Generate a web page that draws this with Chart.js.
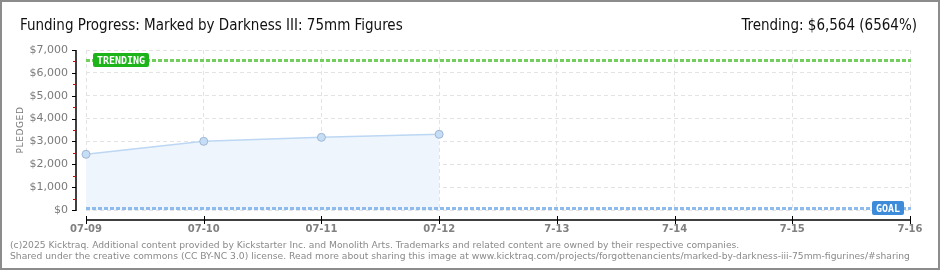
<!DOCTYPE html>
<html>
<head>
<meta charset="utf-8">
<script src="https://cdn.jsdelivr.net/npm/chart.js@4/dist/chart.umd.min.js"></script>
<style>
  html, body { margin: 0; padding: 0; background: #fff; }
  #wrap { width: 940px; height: 270px; position: relative; }
</style>
</head>
<body>
<div id="wrap"><canvas id="myChart" width="940" height="270"></canvas></div>
<script>
// data
var days = ['07-09', '07-10', '07-11', '07-12', '7-13', '7-14', '7-15', '7-16'];
var pledged = [2437, 3005, 3180, 3311, null, null, null, null];
var trending = 6564;
var goal = 100;
var yTicks = [0, 1000, 2000, 3000, 4000, 5000, 6000, 7000];

var extras = {
    id: 'extras',
    beforeDatasetsDraw: function (chart) {
        var c = chart.ctx, y = chart.scales.y, a = chart.chartArea;
        // trending dotted line
        c.save();
        c.lineWidth = 3;
        c.setLineDash([4, 2]);
        c.strokeStyle = '#72cf5e';
        var ty = Math.round(y.getPixelForValue(trending)) + 0.5;
        c.beginPath(); c.moveTo(a.left, ty); c.lineTo(a.right + 1, ty); c.stroke();
        c.restore();
    },
    afterDatasetsDraw: function (chart) {
        var c = chart.ctx, x = chart.scales.x, y = chart.scales.y, a = chart.chartArea;
        c.save();
        c.lineWidth = 3;
        c.setLineDash([4, 2]);
        c.strokeStyle = '#8fbbec';
        var gy = Math.round(y.getPixelForValue(goal)) + 0.5;
        c.beginPath(); c.moveTo(a.left, gy); c.lineTo(a.right + 1, gy); c.stroke();
        c.setLineDash([]);

        // y axis line and ticks
        c.strokeStyle = '#000';
        c.lineWidth = 1.5;
        c.beginPath(); c.moveTo(76, a.top); c.lineTo(76, a.bottom + 1); c.stroke();
        c.lineWidth = 1;
        yTicks.forEach(function (v) {
            var py = Math.round(y.getPixelForValue(v)) + 0.5;
            c.strokeStyle = '#000';
            c.beginPath(); c.moveTo(72, py); c.lineTo(76, py); c.stroke();
            if (v < 7000) {
                var my = Math.round(y.getPixelForValue(v + 500)) + 0.5;
                c.strokeStyle = '#e00000';
                c.beginPath(); c.moveTo(73, my); c.lineTo(76, my); c.stroke();
            }
        });
        // x axis line and ticks
        c.strokeStyle = '#000';
        c.lineWidth = 1.5;
        c.beginPath(); c.moveTo(a.left, 220); c.lineTo(a.right + 1, 220); c.stroke();
        c.lineWidth = 1;
        days.forEach(function (d, i) {
            var px = Math.round(x.getPixelForValue(i)) + 0.5;
            c.beginPath(); c.moveTo(px, 216); c.lineTo(px, 224); c.stroke();
        });

        // label boxes
        function tag(text, bx, by, w, h, col) {
            c.fillStyle = col;
            c.beginPath();
            c.roundRect(bx, by, w, h, 2);
            c.fill();
            c.fillStyle = '#fff';
            c.font = 'bold 10px "DejaVu Sans Mono"';
            c.textBaseline = 'middle';
            c.textAlign = 'center';
            c.fillText(text, bx + w / 2, by + h / 2 + 1);
        }
        tag('TRENDING', 93, 53, 56, 14, '#1db41a');
        tag('GOAL', 872, 201, 32, 14, '#3d8bd9');

        // texts
        c.fillStyle = '#111';
        c.textBaseline = 'alphabetic';
        c.textAlign = 'left';
        c.font = '15px "Liberation Sans Narrow", "DejaVu Sans Condensed", sans-serif';
        c.fillText('Funding Progress: Marked by Darkness III: 75mm Figures', 20, 30);
        c.textAlign = 'right';
        c.fillText('Trending: $6,564 (6564%)', 917, 30);

        c.textAlign = 'left';
        c.fillStyle = '#8a8a8a';
        c.font = '9.2px "DejaVu Sans", sans-serif';
        c.fillText('(c)2025 Kicktraq. Additional content provided by Kickstarter Inc. and Monolith Arts. Trademarks and related content are owned by their respective companies.', 10, 248);
        c.fillText('Shared under the creative commons (CC BY-NC 3.0) license. Read more about sharing this image at www.kicktraq.com/projects/forgottenancients/marked-by-darkness-iii-75mm-figurines/#sharing', 10, 259);

        // y title
        c.save();
        c.translate(23, 130);
        c.rotate(-Math.PI / 2);
        c.textAlign = 'center';
        c.fillStyle = '#777';
        c.font = '9px "DejaVu Sans", sans-serif';
        c.letterSpacing = '0.6px';
        c.fillText('PLEDGED', 0, 0);
        c.restore();

        // border
        c.strokeStyle = '#8c8c8c';
        c.lineWidth = 2;
        c.strokeRect(1, 1, 938, 268);
        c.restore();
    }
};

var ctx = document.getElementById('myChart').getContext('2d');
var myChart = new Chart(ctx, {
    type: 'line',
    data: {
        labels: days,
        datasets: [{
            label: 'Pledged',
            data: pledged,
            borderColor: '#bcd7f3',
            borderWidth: 1.5,
            backgroundColor: '#eef5fd',
            fill: 'origin',
            tension: 0,
            pointRadius: 4,
            pointBackgroundColor: '#c6ddf6',
            pointBorderColor: '#9fb6d3',
            pointBorderWidth: 1
        }]
    },
    plugins: [extras],
    options: {
        responsive: false,
        animation: false,
        layout: { padding: { top: 50, right: 30, left: 0, bottom: 0 } },
        plugins: {
            legend: { display: false },
            tooltip: { enabled: false }
        },
        scales: {
            x: {
                offset: false,
                afterFit: function (s) { s.height = 60; },
                border: { display: false, dash: [4, 3] },
                grid: { color: '#e3e3e3', drawTicks: false },
                ticks: {
                    padding: 13,
                    maxRotation: 0,
                    autoSkip: false,
                    color: '#808080',
                    font: { family: 'DejaVu Sans', size: 10, weight: 'bold' }
                }
            },
            y: {
                min: 0,
                max: 7000,
                afterFit: function (s) { s.width = 86; },
                border: { display: false, dash: [4, 3] },
                grid: { color: '#e3e3e3', drawTicks: false },
                ticks: {
                    stepSize: 1000,
                    padding: 18,
                    color: '#7a7a7a',
                    font: { family: 'DejaVu Sans', size: 11 },
                    callback: function (v) { return '$' + v.toLocaleString('en-US'); }
                }
            }
        }
    }
});
</script>
</body>
</html>
